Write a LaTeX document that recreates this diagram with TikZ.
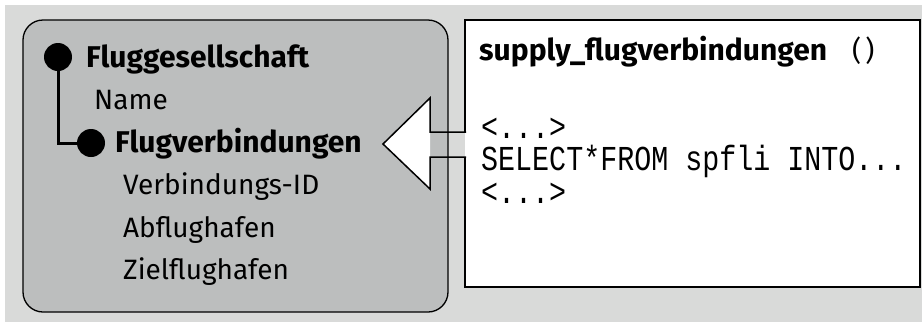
\documentclass[tikz,border=0pt]{standalone}
\usepackage{fontspec}
\setmainfont{Fira Sans}
\newfontfamily\codefont[FakeStretch=0.81]{Liberation Mono}
\definecolor{bgcol}{RGB}{217,218,217}
\definecolor{boxcol}{RGB}{188,190,190}
\begin{document}
\begin{tikzpicture}[x=1pt,y=-1pt,
  lbl/.style={anchor=base west,inner sep=0pt,font=\fontsize{28}{30}\selectfont},
  lblb/.style={lbl,font=\fontsize{30}{32}\selectfont\bfseries},
  code/.style={anchor=base west,inner sep=0pt,font=\fontsize{35}{36}\codefont},
  dot/.style={circle,fill=black,inner sep=0pt,minimum size=28pt},
  tree/.style={line width=3pt},
  frame/.style={line width=1.5pt}]
\useasboundingbox (0,0) rectangle (922,322);
\fill[white] (0,0) rectangle (922,322);
\fill[bgcol] (5,5) rectangle (922,322);
% left entity box
\draw[fill=boxcol,line width=1.3pt,rounded corners=20pt] (23,20) rectangle (448,312);
% tree
\node[dot] (d1) at (58,57) {};
\node[dot] (d2) at (91,143) {};
\draw[tree] (d1.center) |- (d2.center);
\node[lblb] (fg) at (86,67) {Fluggesellschaft};
\node[lbl] (nm) at (94,109) {Name};
\node[lblb] (fv) at (115,152) {Flugverbindungen};
\node[lbl] (vid) at (123,194) {Verbindungs-ID};
\node[lbl] (ab) at (123,237) {Abflughafen};
\node[lbl] (zi) at (123,279) {Zielflughafen};
% right code box
\fill[white] (465,20) rectangle (920,287);
\draw[frame] (465,132) -- (465,20) -- (920,20) -- (920,287) -- (465,287) -- (465,157);
\node[lblb] (sf) at (479,60) {supply\_flugverbindungen};
\node[lbl] (par) at (852,60) {(\hspace{4pt})};
\node[code] (c1) at (481,138) {<...>};
\node[code] (c2) at (481,170) {SELECT*FROM spfli INTO...};
\node[code] (c3) at (481,203) {<...>};
% arrow
\fill[white] (430,98) -- (383,144) -- (430,189) -- cycle;
\draw[frame,line join=miter] (466,132) -- (430,132) -- (430,98) -- (383,144) -- (430,189) -- (430,157) -- (466,157);
\end{tikzpicture}
\end{document}
